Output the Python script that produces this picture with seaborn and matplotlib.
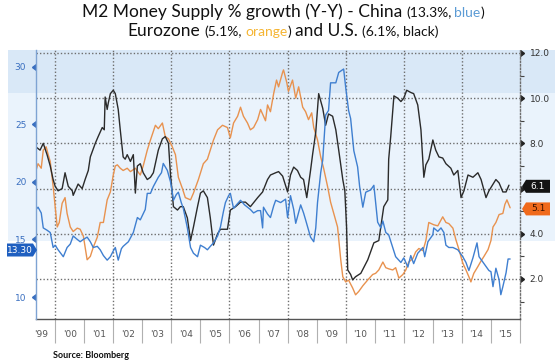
import matplotlib
matplotlib.use("Agg")
import matplotlib.pyplot as plt
import matplotlib.transforms as mtransforms
from matplotlib.patches import Polygon, Rectangle
import seaborn as sns
import pandas as pd
import numpy as np

# ---- data (decimal years, % y/y) ----
china_t = [1999.34, 1999.41, 1999.52, 1999.59, 1999.72, 1999.83, 1999.93, 2000.00, 2000.10, 2000.28,
           2000.41, 2000.52, 2000.62, 2000.76, 2000.86, 2000.97, 2001.10, 2001.21, 2001.31, 2001.45,
           2001.55, 2001.66, 2001.79, 2001.90, 2002.00, 2002.07, 2002.17, 2002.28, 2002.34, 2002.52,
           2002.69, 2002.83, 2002.93, 2003.10, 2003.17, 2003.28, 2003.38, 2003.55, 2003.66, 2003.72,
           2003.86, 2003.97, 2004.03, 2004.07, 2004.17, 2004.24, 2004.34, 2004.41, 2004.55, 2004.66,
           2004.76, 2004.90, 2005.00, 2005.14, 2005.24, 2005.34, 2005.45, 2005.59, 2005.69, 2005.79,
           2005.86, 2005.97, 2006.03, 2006.14, 2006.24, 2006.38, 2006.52, 2006.62, 2006.72, 2006.83,
           2006.97, 2007.07, 2007.14, 2007.17, 2007.31, 2007.41, 2007.52, 2007.59, 2007.76, 2007.93,
           2008.00, 2008.10, 2008.21, 2008.28, 2008.45, 2008.55, 2008.62, 2008.72, 2008.79, 2008.90,
           2008.97, 2009.03, 2009.14, 2009.21, 2009.31, 2009.41, 2009.48, 2009.66, 2009.76, 2009.93,
           2010.00, 2010.10, 2010.17, 2010.28, 2010.41, 2010.48, 2010.59, 2010.69, 2010.86, 2010.97,
           2011.03, 2011.10, 2011.21, 2011.28, 2011.38, 2011.48, 2011.62, 2011.72, 2011.90, 2012.00,
           2012.14, 2012.24, 2012.34, 2012.48, 2012.66, 2012.72, 2012.83, 2013.00, 2013.03, 2013.17,
           2013.28, 2013.38, 2013.45, 2013.55, 2013.69, 2013.86, 2014.03, 2014.14, 2014.24, 2014.38,
           2014.52, 2014.59, 2014.76, 2014.93, 2015.00, 2015.07, 2015.17, 2015.28, 2015.34, 2015.41,
           2015.52, 2015.59, 2015.66]
china_v = [17.6, 17.8, 17.3, 16.0, 15.8, 15.6, 14.3, 14.5, 14.1, 13.5,
           14.3, 14.6, 15.3, 15.0, 14.8, 15.0, 15.2, 14.8, 14.3, 14.4,
           14.1, 13.6, 13.2, 13.5, 14.0, 14.3, 13.2, 14.2, 14.4, 14.8,
           15.6, 16.9, 16.7, 17.6, 19.0, 19.0, 19.6, 20.4, 20.8, 21.6,
           21.0, 20.0, 19.1, 18.4, 18.9, 19.1, 18.2, 17.7, 16.0, 14.3,
           13.8, 13.5, 14.5, 14.3, 14.1, 14.4, 14.7, 15.3, 16.1, 17.4,
           18.2, 18.8, 19.0, 17.7, 18.0, 18.4, 18.0, 17.8, 17.6, 17.3,
           17.5, 17.5, 16.0, 17.8, 17.2, 16.9, 17.9, 18.4, 18.2, 18.5,
           16.9, 18.8, 17.6, 16.4, 18.0, 17.3, 16.7, 15.8, 15.2, 14.8,
           16.0, 18.2, 20.8, 21.9, 25.8, 26.2, 28.6, 28.6, 29.5, 29.8,
           28.2, 26.2, 25.5, 22.7, 21.3, 19.6, 17.8, 19.1, 19.3, 19.7,
           18.2, 16.5, 16.0, 16.6, 15.6, 15.4, 14.3, 13.5, 13.0, 13.4,
           12.6, 13.6, 12.9, 13.8, 14.3, 13.5, 14.8, 15.4, 16.0, 15.7,
           16.0, 15.6, 14.5, 14.3, 14.3, 14.1, 13.5, 13.0, 12.3, 13.4,
           14.7, 13.5, 12.9, 12.3, 12.2, 10.9, 12.5, 11.5, 10.2, 10.9,
           12.1, 13.3, 13.3]

ez_t = [1999.34, 1999.41, 1999.52, 1999.59, 1999.69, 1999.76, 1999.83, 1999.93, 2000.07, 2000.14,
        2000.24, 2000.34, 2000.41, 2000.52, 2000.62, 2000.76, 2000.86, 2000.97, 2001.10, 2001.21,
        2001.31, 2001.45, 2001.55, 2001.66, 2001.79, 2001.90, 2002.00, 2002.07, 2002.14, 2002.24,
        2002.34, 2002.48, 2002.59, 2002.76, 2002.93, 2003.03, 2003.17, 2003.28, 2003.45, 2003.55,
        2003.69, 2003.79, 2003.90, 2004.03, 2004.14, 2004.24, 2004.38, 2004.48, 2004.66, 2004.76,
        2004.93, 2005.10, 2005.24, 2005.34, 2005.45, 2005.59, 2005.76, 2005.93, 2006.03, 2006.14,
        2006.28, 2006.38, 2006.48, 2006.62, 2006.72, 2006.83, 2006.97, 2007.07, 2007.17, 2007.24,
        2007.31, 2007.41, 2007.52, 2007.62, 2007.69, 2007.83, 2007.86, 2007.97, 2008.03, 2008.17,
        2008.28, 2008.38, 2008.52, 2008.62, 2008.72, 2008.83, 2008.90, 2009.03, 2009.14, 2009.24,
        2009.38, 2009.48, 2009.59, 2009.72, 2009.83, 2009.90, 2010.00, 2010.10, 2010.24, 2010.34,
        2010.45, 2010.59, 2010.76, 2010.93, 2011.03, 2011.14, 2011.28, 2011.38, 2011.48, 2011.62,
        2011.72, 2011.83, 2011.97, 2012.07, 2012.17, 2012.31, 2012.41, 2012.52, 2012.66, 2012.76,
        2012.86, 2013.03, 2013.17, 2013.34, 2013.45, 2013.55, 2013.69, 2013.79, 2013.90, 2014.03,
        2014.14, 2014.24, 2014.31, 2014.41, 2014.55, 2014.66, 2014.76, 2014.90, 2015.00, 2015.07,
        2015.17, 2015.28, 2015.41, 2015.48, 2015.55, 2015.66]
ez_v = [6.8, 7.1, 6.9, 7.7, 7.85, 7.5, 7.2, 6.1, 4.3, 4.5,
        5.35, 5.6, 4.9, 4.3, 4.1, 4.25, 4.2, 3.9, 2.85, 3.0,
        3.4, 3.85, 4.5, 4.5, 5.5, 5.85, 6.6, 7.0, 7.05, 6.9,
        6.8, 6.9, 6.75, 6.9, 6.6, 7.0, 7.7, 8.15, 8.8, 8.65,
        8.9, 8.3, 8.2, 7.85, 7.5, 6.5, 6.0, 5.6, 5.5, 5.8,
        6.4, 7.1, 7.3, 7.7, 8.15, 8.6, 8.8, 8.7, 8.25, 8.9,
        9.2, 9.6, 9.2, 8.9, 8.6, 8.7, 9.05, 9.5, 9.2, 9.0,
        9.7, 9.4, 10.2, 10.8, 10.5, 11.15, 11.25, 10.7, 10.3, 10.8,
        10.0, 10.5, 9.6, 9.4, 9.05, 9.35, 8.7, 8.15, 7.4, 6.9,
        6.07, 5.4, 4.9, 4.3, 2.85, 2.1, 1.87, 1.95, 1.6, 1.3,
        1.45, 1.7, 1.96, 2.2, 2.25, 2.4, 2.75, 2.5, 2.45, 2.4,
        2.5, 2.04, 2.2, 2.4, 2.75, 2.9, 3.2, 3.35, 3.25, 3.7,
        4.5, 4.4, 4.35, 4.75, 4.5, 4.45, 4.25, 3.75, 3.3, 2.7,
        2.4, 2.1, 1.87, 2.25, 2.55, 2.8, 3.0, 3.3, 3.7, 4.3,
        4.5, 4.85, 4.9, 5.3, 5.5, 5.15]

us_t = [1999.34, 1999.48, 1999.59, 1999.72, 1999.83, 1999.93, 2000.00, 2000.10, 2000.24, 2000.34,
        2000.45, 2000.59, 2000.62, 2000.79, 2000.93, 2001.03, 2001.14, 2001.21, 2001.38, 2001.48,
        2001.62, 2001.69, 2001.72, 2001.79, 2001.83, 2001.90, 2002.00, 2002.07, 2002.17, 2002.24,
        2002.34, 2002.41, 2002.48, 2002.59, 2002.69, 2002.76, 2002.83, 2002.93, 2003.03, 2003.17,
        2003.28, 2003.38, 2003.55, 2003.69, 2003.79, 2003.90, 2003.97, 2004.03, 2004.07, 2004.21,
        2004.31, 2004.41, 2004.55, 2004.66, 2004.76, 2004.90, 2005.00, 2005.10, 2005.24, 2005.34,
        2005.45, 2005.59, 2005.69, 2005.93, 2006.03, 2006.21, 2006.38, 2006.55, 2006.72, 2006.97,
        2007.14, 2007.31, 2007.41, 2007.59, 2007.69, 2007.83, 2008.00, 2008.10, 2008.21, 2008.34,
        2008.45, 2008.55, 2008.66, 2008.79, 2008.86, 2008.97, 2009.07, 2009.21, 2009.31, 2009.41,
        2009.55, 2009.66, 2009.76, 2009.90, 2009.97, 2010.03, 2010.07, 2010.17, 2010.24, 2010.34,
        2010.52, 2010.76, 2010.97, 2011.14, 2011.31, 2011.45, 2011.48, 2011.55, 2011.66, 2011.79,
        2011.90, 2012.00, 2012.10, 2012.24, 2012.34, 2012.48, 2012.59, 2012.69, 2012.76, 2012.86,
        2013.00, 2013.10, 2013.21, 2013.34, 2013.45, 2013.62, 2013.72, 2013.86, 2013.97, 2014.07,
        2014.21, 2014.38, 2014.55, 2014.66, 2014.83, 2014.93, 2015.17, 2015.28, 2015.41, 2015.52,
        2015.62]
us_v = [7.84, 7.7, 8.0, 7.5, 7.0, 6.4, 6.1, 5.9, 6.0, 6.7,
        6.1, 5.9, 5.7, 6.2, 6.0, 6.4, 6.8, 7.4, 8.0, 8.3,
        8.7, 8.6, 10.05, 9.5, 9.8, 10.2, 10.35, 10.2, 9.5, 8.6,
        7.4, 7.3, 7.5, 7.2, 7.5, 5.8, 7.0, 7.1, 6.7, 6.4,
        6.5, 6.7, 7.7, 8.2, 8.3, 8.0, 6.6, 5.8, 5.2, 5.05,
        5.2, 5.2, 4.7, 3.7, 4.3, 5.2, 5.8, 5.9, 5.6, 4.7,
        3.5, 4.0, 4.2, 4.2, 5.05, 5.2, 5.4, 5.4, 5.2, 5.6,
        5.85, 6.4, 6.6, 6.7, 6.75, 6.55, 5.85, 6.6, 6.95, 6.8,
        6.5, 6.4, 5.6, 6.8, 7.5, 8.5, 10.2, 9.55, 8.8, 9.3,
        9.2, 8.6, 7.7, 6.4, 5.9, 4.3, 2.4, 2.2, 1.96, 2.1,
        2.25, 2.85, 3.6, 3.7, 5.2, 5.5, 7.3, 8.3, 10.1, 10.0,
        9.85, 10.0, 10.35, 10.25, 10.2, 9.7, 8.6, 6.5, 7.05, 7.3,
        8.15, 7.7, 7.4, 7.35, 7.1, 6.9, 6.6, 6.8, 5.6, 5.9,
        6.6, 6.5, 6.7, 6.4, 5.6, 5.9, 6.4, 6.25, 5.85, 5.85,
        6.15]

year_edges = list(range(2000, 2017))
year_mids = [1999.5 + i for i in range(17)]
year_labels = ["'99", "'00", "'01", "'02", "'03", "'04", "'05", "'06", "'07", "'08",
               "'09", "'10", "'11", "'12", "'13", "'14", "'15"]
left_ticks = [10, 15, 20, 25, 30]
right_ticks = [2, 4, 6, 8, 10, 12]
right_labels = ["2.0", "4.0", "", "8.0", "10.0", "12.0"]
right_minor = [1, 3, 5, 7, 9, 11]
last_china, last_ez, last_us = 13.3, 5.1, 6.1

C_BLUE = "#3f7fd0"
C_ORANGE = "#e8924f"
C_BLACK = "#2b2b2b"

sns.set_theme(style="white")
plt.rcParams["font.family"] = ["DejaVu Sans"]

W, H = 555, 364
fig = plt.figure(figsize=(W / 100, H / 100), dpi=100, facecolor="white")
px = mtransforms.IdentityTransform()

# light blue background bands (Bloomberg style)
fig.add_artist(Rectangle((8 / W, (H - 93) / H), 1, 43 / H, transform=fig.transFigure,
                         facecolor="#d9e8f7", edgecolor="none", zorder=-5))
fig.add_artist(Rectangle((8 / W, (H - 241) / H), 1, 148 / H, transform=fig.transFigure,
                         facecolor="#eaf3fc", edgecolor="none", zorder=-5))

# right-scale axis is the base layer (grid lives here), China on a twin with left scale
ax = fig.add_axes([36 / W, (H - 319) / H, 484 / W, 269 / H])
ax.set_facecolor("none")
axL = ax.twinx()
axL.set_facecolor("none")

ez_df = pd.DataFrame({"year": ez_t, "m2": ez_v})
us_df = pd.DataFrame({"year": us_t, "m2": us_v})
cn_df = pd.DataFrame({"year": china_t, "m2": china_v})

sns.lineplot(data=ez_df, x="year", y="m2", ax=ax, color=C_ORANGE, lw=1.0, estimator=None, sort=False)
sns.lineplot(data=us_df, x="year", y="m2", ax=ax, color=C_BLACK, lw=1.0, estimator=None, sort=False)
sns.lineplot(data=cn_df, x="year", y="m2", ax=axL, color=C_BLUE, lw=1.0, estimator=None, sort=False)

ax.set_xlim(1999.34, 2016.0)
ax.set_ylim(0.23, 12.13)
axL.set_ylim(8.09, 31.45)
for a in (ax, axL):
    a.set_xlabel("")
    a.set_ylabel("")

# dotted grid: horizontals on the right scale, verticals every two years
dot = (0, (1, 1.5))
grid_kw = dict(color="#6e6e6e", lw=1.0, linestyle=dot, zorder=1)
for v in right_ticks:
    ax.axhline(v, **grid_kw)
for yr in year_edges[:-1:2]:
    ax.axvline(yr, **grid_kw)

# spines
for s in ("top", "left"):
    ax.spines[s].set_visible(False)
ax.spines["bottom"].set_color("#555555")
ax.spines["bottom"].set_linewidth(1.0)
ax.spines["right"].set_color("#6e6e6e")
ax.spines["right"].set_linestyle(dot)
ax.spines["right"].set_linewidth(1.0)
for s in ("top", "right", "bottom"):
    axL.spines[s].set_visible(False)
axL.spines["left"].set_color("#7ea3d3")
axL.spines["left"].set_linewidth(1.0)

# x axis: long separators at year boundaries, labels mid-year
ax.set_xticks(year_edges)
ax.set_xticklabels([])
ax.set_xticks(year_mids, minor=True)
ax.set_xticklabels(year_labels, minor=True)
ax.tick_params(axis="x", which="major", direction="out", length=17, width=0.8, color="#b0b0b0", bottom=True)
ax.tick_params(axis="x", which="minor", length=0, pad=8, labelsize=6.5, labelcolor="#555555")

# right axis
ax.yaxis.tick_right()
ax.set_yticks(right_ticks)
ax.set_yticklabels(right_labels)
ax.set_yticks(right_minor, minor=True)
ax.tick_params(axis="y", which="major", length=0, pad=7, labelsize=6.5, labelcolor="#333333", right=True, left=False)
ax.tick_params(axis="y", which="minor", length=3, width=0.8, color="#444444", right=True, left=False)
ax.plot([1.0] * len(right_ticks), right_ticks, ls="none", marker=9, ms=4, color="#222222",
        transform=mtransforms.blended_transform_factory(ax.transAxes, ax.transData), clip_on=False)

# left axis
axL.yaxis.tick_left()
axL.set_yticks(left_ticks)
axL.set_yticklabels([str(v) for v in left_ticks])
axL.tick_params(axis="y", length=0, pad=7, labelsize=6.5, labelcolor="#3a6fc0", left=True, right=False)
axL.plot([0.0] * len(left_ticks), left_ticks, ls="none", marker=8, ms=4, color="#3a6fc0",
         transform=mtransforms.blended_transform_factory(axL.transAxes, axL.transData), clip_on=False)


# last-value tags
def tag(x0, x1, yc, point, face, label, tcolor):
    h = 6.5
    if point == "right":
        pts = [(x0, yc - h), (x1 - 4, yc - h), (x1, yc), (x1 - 4, yc + h), (x0, yc + h)]
        tx = (x0 + x1 - 4) / 2
    else:
        pts = [(x0, yc), (x0 + 4, yc - h), (x1, yc - h), (x1, yc + h), (x0 + 4, yc + h)]
        tx = (x0 + 4 + x1) / 2
    fig.add_artist(Polygon(pts, closed=True, transform=px, facecolor=face, edgecolor="none", zorder=5))
    fig.text(tx, yc, label, transform=px, ha="center", va="center", fontsize=6.5, color=tcolor, zorder=6)


y_cn = axL.transData.transform((2015.0, last_china))[1] + 9
y_us = ax.transData.transform((2015.0, last_us))[1]
y_ez = ax.transData.transform((2015.0, last_ez))[1]
tag(7, 37, y_cn, "right", "#1f5fc0", "%.2f" % last_china, "white")
tag(522, 550, y_us, "left", "#141414", "%.1f" % last_us, "white")
tag(522, 550, y_ez, "left", "#f06a1c", "%.1f" % last_ez, "#3a1200")


# two-line title with mixed sizes / colours, centred
def title_line(y_base, pieces, cx=283):
    r = fig.canvas.get_renderer()
    items = []
    for s, size, color, gap in pieces:
        t = fig.text(0, y_base, s, transform=px, fontsize=size, color=color,
                     family=["Lato", "DejaVu Sans"], ha="left", va="baseline")
        items.append((t, gap))
    widths = [t.get_window_extent(r).width + g for t, g in items]
    x = cx - sum(widths) / 2
    for (t, g), w in zip(items, widths):
        t.set_x(x)
        x += w


big, small = 12.5, 10
title_line(H - 17, [("M2 Money Supply % growth (Y-Y) - China", big, "#111111", 4),
                    ("(13.3%,", small, "#111111", 3),
                    ("blue", small, "#5b9bd5", 0),
                    (")", small, "#111111", 0)])
title_line(H - 36, [("Eurozone", big, "#111111", 4),
                    ("(5.1%,", small, "#111111", 3),
                    ("orange", small, "#f5b533", 0),
                    (")", small, "#111111", 4),
                    ("and U.S.", big, "#111111", 4),
                    ("(6.1%, black)", small, "#111111", 0)])

fig.text(53, H - 357.5, "Source: Bloomberg", transform=px, fontsize=6.5, fontweight="bold",
         family=["Lato", "DejaVu Sans"], color="#111111", ha="left", va="baseline")

fig.savefig("out.png", dpi=100)
